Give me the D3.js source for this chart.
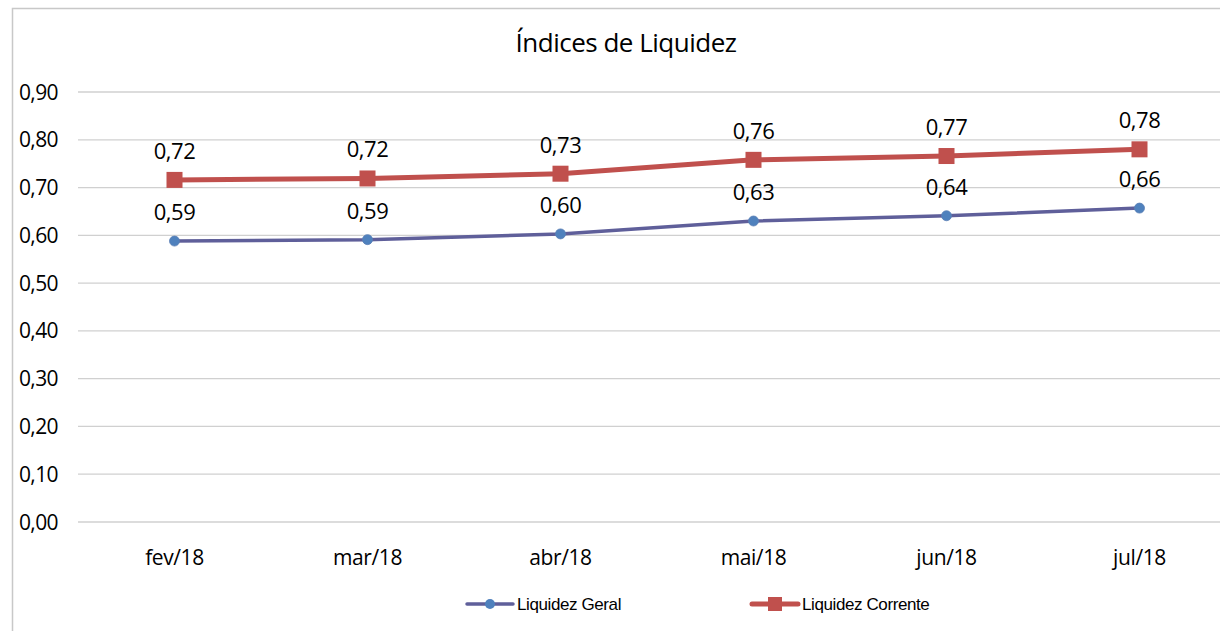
<!DOCTYPE html>
<html>
<head>
<meta charset="utf-8">
<script src="https://cdn.jsdelivr.net/npm/d3@7"></script>
<style>
  body { margin: 0; background: #fff; }
  svg text { font-family: "Open Sans", "Noto Sans", sans-serif; fill: #000; }
</style>
</head>
<body>
<div id="chart"></div>
<script>
const months = ["fev/18", "mar/18", "abr/18", "mai/18", "jun/18", "jul/18"];
const liquidezGeral = [0.588, 0.591, 0.603, 0.630, 0.641, 0.657];
const liquidezCorrente = [0.716, 0.719, 0.729, 0.758, 0.766, 0.780];
const yTicks = [0, 0.1, 0.2, 0.3, 0.4, 0.5, 0.6, 0.7, 0.8, 0.9];

const W = 1220, H = 631;
const margin = {top: 92, right: 0, bottom: 109, left: 78};
const width = W - margin.left - margin.right,
      height = H - margin.top - margin.bottom;

const fmt = v => d3.format(".2f")(v).replace(".", ",");

const svg = d3.select("#chart").append("svg")
    .attr("width", W).attr("height", H);

// chart border
svg.append("rect")
    .attr("x", 12.5).attr("y", 8.5)
    .attr("width", W).attr("height", H)
    .attr("fill", "none").attr("stroke", "#c8c8c8").attr("stroke-width", 1.5);

svg.append("text")
    .attr("x", 626).attr("y", 52)
    .attr("text-anchor", "middle")
    .style("font-size", "26px")
    .style("letter-spacing", "-0.5px")
    .text("Índices de Liquidez");

const g = svg.append("g").attr("transform", "translate(" + margin.left + "," + margin.top + ")");

const x = d3.scalePoint().domain(months).range([0, 1158]).padding(0.5);
const y = d3.scaleLinear().domain([0, 0.9]).range([height, 0]);

// gridlines
g.append("g")
    .selectAll("line").data(yTicks).join("line")
    .attr("x1", 0).attr("x2", width)
    .attr("y1", d => y(d)).attr("y2", d => y(d))
    .attr("stroke", "#d0d0d0").attr("stroke-width", 1.3);

// y axis labels
g.append("g")
    .selectAll("text").data(yTicks).join("text")
    .attr("x", -20).attr("y", d => y(d))
    .attr("dy", "0.36em")
    .attr("text-anchor", "end")
    .style("font-size", "21px")
    .style("letter-spacing", "-0.6px")
    .text(fmt);

// x axis labels
g.append("g")
    .selectAll("text").data(months).join("text")
    .attr("x", d => x(d)).attr("y", height + 43)
    .attr("text-anchor", "middle")
    .style("font-size", "21px")
    .style("letter-spacing", "-0.4px")
    .text(d => d);

const series = [
  {name: "Liquidez Geral", values: liquidezGeral, line: "#5f5f9a", marker: "#4f81bd", shape: "circle"},
  {name: "Liquidez Corrente", values: liquidezCorrente, line: "#c0504d", marker: "#c0504d", shape: "square"}
];

const line = d3.line()
    .x((d, i) => x(months[i]))
    .y(d => y(d));

series.forEach(s => {
  g.append("path")
      .datum(s.values)
      .attr("fill", "none")
      .attr("stroke", s.line)
      .attr("stroke-width", s.shape === "square" ? 5 : 3.5)
      .attr("d", line);

  if (s.shape === "circle") {
    g.append("g").selectAll("circle").data(s.values).join("circle")
        .attr("cx", (d, i) => x(months[i]))
        .attr("cy", d => y(d))
        .attr("r", 5)
        .attr("fill", s.marker)
        .attr("stroke", "#5a7fb5").attr("stroke-width", 0.8);
  } else {
    g.append("g").selectAll("rect").data(s.values).join("rect")
        .attr("x", (d, i) => x(months[i]) - 8)
        .attr("y", d => y(d) - 8)
        .attr("width", 16).attr("height", 16)
        .attr("fill", s.marker);
  }

  g.append("g").selectAll("text").data(s.values).join("text")
      .attr("x", (d, i) => x(months[i]))
      .attr("y", d => y(d) - 21)
      .attr("text-anchor", "middle")
      .style("font-size", "22px")
      .style("letter-spacing", "-0.5px")
      .text(fmt);
});

// legend
const legend = svg.append("g").attr("transform", "translate(0,604)");
const legendItems = [
  {s: series[0], x: 467},
  {s: series[1], x: 752}
];
legendItems.forEach(({s, x: lx}) => {
  const it = legend.append("g").attr("transform", "translate(" + lx + ",0)");
  it.append("line")
      .attr("x1", 0).attr("x2", 46).attr("y1", 0).attr("y2", 0)
      .attr("stroke", s.line)
      .attr("stroke-width", s.shape === "square" ? 5 : 3.5)
      .attr("stroke-linecap", "round");
  if (s.shape === "circle") {
    it.append("circle").attr("cx", 23).attr("cy", 0).attr("r", 5).attr("fill", s.marker);
  } else {
    it.append("rect").attr("x", 16).attr("y", -7).attr("width", 14).attr("height", 14).attr("fill", s.marker);
  }
  it.append("text")
      .attr("x", 50).attr("y", 0).attr("dy", "0.35em")
      .style("font-family", "'Liberation Sans', sans-serif")
      .style("font-size", "17px")
      .style("letter-spacing", "-0.4px")
      .text(s.name);
});
</script>
</body>
</html>
